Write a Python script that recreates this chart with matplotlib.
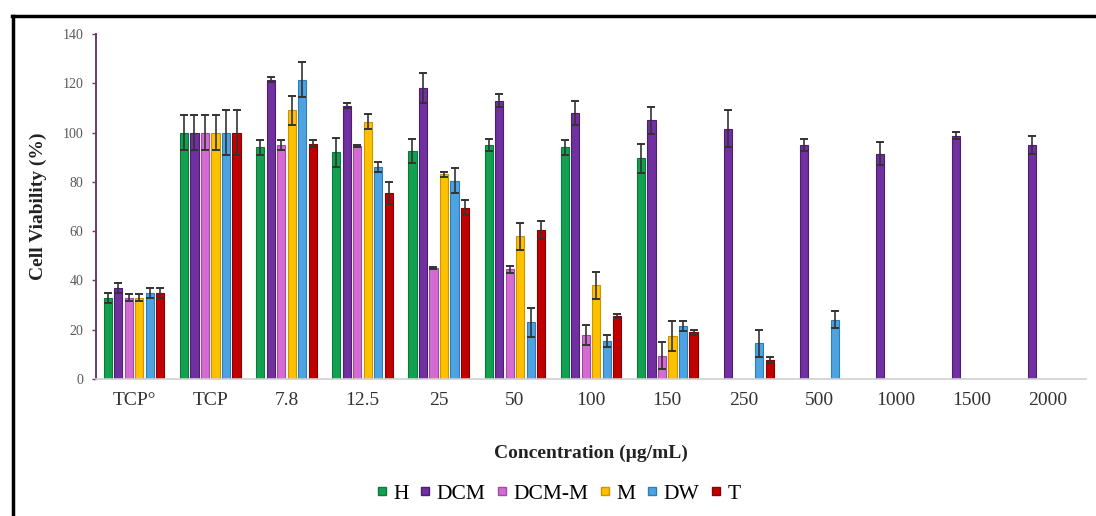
import numpy as np
import matplotlib
matplotlib.use("Agg")
import matplotlib.pyplot as plt
from matplotlib.lines import Line2D

plt.rcParams['font.family'] = ['Liberation Serif', 'DejaVu Serif']

nan = np.nan
categories = ["TCP°", "TCP", "7.8", "12.5", "25", "50", "100", "150",
              "250", "500", "1000", "1500", "2000"]
series = ["H", "DCM", "DCM-M", "M", "DW", "T"]
colors = ["#12A150", "#7030A0", "#D46BD3", "#FFC000", "#4DA3E2", "#C00000"]
edges = ["#0B7A3B", "#4E1E73", "#A24BA2", "#C99600", "#2F7DB5", "#8A0000"]

h_vals = [33, 100, 94, 92, 92.5, 95, 94, 89.5, nan, nan, nan, nan, nan]
h_err = [2, 7, 3, 6, 5, 2.5, 3, 6, nan, nan, nan, nan, nan]
dcm_vals = [37, 100, 121.5, 111, 118, 113, 108, 105, 101.5, 95, 91.5, 98.7, 95]
dcm_err = [2, 7, 1, 1, 6, 2.5, 5, 5.5, 7.5, 2.3, 4.5, 1.4, 3.5]
dcmm_vals = [33, 100, 95, 94.5, 45, 44.5, 18, 9.5, nan, nan, nan, nan, nan]
dcmm_err = [1.5, 7, 2, 0.5, 0.5, 1.5, 4, 5.5, nan, nan, nan, nan, nan]
m_vals = [33, 100, 109, 104.5, 83, 58, 38, 17.5, nan, nan, nan, nan, nan]
m_err = [1.5, 7, 6, 3, 1, 5.5, 5.5, 6, nan, nan, nan, nan, nan]
dw_vals = [35, 100, 121.5, 86, 80.5, 23, 15.5, 21.5, 14.5, 24, nan, nan, nan]
dw_err = [2, 9, 7, 2, 5, 6, 2.5, 2, 5.5, 3.5, nan, nan, nan]
t_vals = [35, 100, 95.5, 75.5, 69.5, 60.5, 25.5, 19, 7.7, nan, nan, nan, nan]
t_err = [2, 9, 1.5, 4.5, 3, 3.5, 0.8, 1, 1.3, nan, nan, nan, nan]

values = [h_vals, dcm_vals, dcmm_vals, m_vals, dw_vals, t_vals]
errors = [h_err, dcm_err, dcmm_err, m_err, dw_err, t_err]

fig = plt.figure(figsize=(10.96, 5.16), dpi=100)
ax = fig.add_axes([0.0876, 0.2655, 0.9034, 0.6685])

x = np.arange(len(categories))
step = 0.138
width = 0.108
for i, name in enumerate(series):
    pos = x + (i - 2.5) * step
    v = np.array(values[i], dtype=float)
    e = np.array(errors[i], dtype=float)
    ax.bar(pos, v, width, color=colors[i], edgecolor=edges[i], linewidth=0.8,
           label=name, zorder=2)
    ax.errorbar(pos, v, yerr=e, fmt="none", ecolor="#333333", elinewidth=1.2,
                capsize=3, capthick=1.4, zorder=3)

ax.set_xlim(-0.5, len(categories) - 0.5)
ax.set_ylim(0, 140)
ax.set_yticks(range(0, 141, 20))
ax.set_xticks(x)
ax.set_xticklabels(categories)
ax.tick_params(axis="x", length=0, pad=9, labelsize=14, labelcolor="#333333")
ax.tick_params(axis="y", length=3, width=1, color="#6B3A6B", labelsize=10,
               labelcolor="#595959", pad=6)

for s in ["top", "right"]:
    ax.spines[s].set_visible(False)
ax.spines["left"].set_color("#6B3A6B")
ax.spines["left"].set_linewidth(1.4)
ax.spines["bottom"].set_color("#D0D0D0")
ax.spines["bottom"].set_linewidth(1.2)

ax.set_ylabel("Cell Viability (%)", fontsize=14, fontweight="bold", color="#222222")
ax.yaxis.set_label_coords(-0.05, 0.5)
ax.set_xlabel("Concentration (µg/mL)", fontsize=14, fontweight="bold", color="#222222")
ax.xaxis.set_label_coords(0.5, -0.19)

handles = [Line2D([], [], marker="s", linestyle="none", markersize=6,
                  markerfacecolor=colors[i], markeredgecolor=edges[i])
           for i in range(len(series))]
fig.legend(handles, series, loc="center", bbox_to_anchor=(0.507, 0.043), ncol=6,
           frameon=False, fontsize=15.5, handletextpad=0.05, columnspacing=0.25,
           handlelength=1.0)

# black frame lines on top and left, as in the source image
fig.add_artist(Line2D([0.011, 1.0], [0.969, 0.969], color="black", linewidth=2.5,
                      transform=fig.transFigure))
fig.add_artist(Line2D([0.012, 0.012], [0.0, 0.969], color="black", linewidth=2.5,
                      transform=fig.transFigure))

fig.savefig("out.png", dpi=100)
